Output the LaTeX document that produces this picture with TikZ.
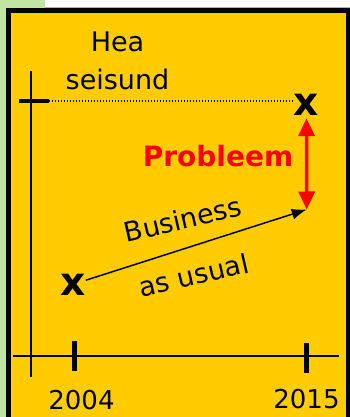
\documentclass[tikz,border=0pt]{standalone}
\usepackage{fontspec}
\setmainfont{DejaVu Sans}
\usetikzlibrary{arrows.meta}
\definecolor{bg}{HTML}{FFCC00}
\definecolor{lg}{HTML}{C2E4A2}
\tikzset{mk/.style={inner sep=0,anchor=base,font=\fontsize{39}{39}\selectfont\bfseries}}
\tikzset{tx/.style={inner sep=0,anchor=base,font=\fontsize{27}{38}\selectfont}}
\tikzset{tk/.style={line width=5pt}}
\tikzset{ax/.style={line width=1.5pt}}

\begin{document}
\begin{tikzpicture}[x=1pt,y=-1pt]
                \useasboundingbox (0,0) rectangle (350,417);
                % frame
                \fill[lg] (0,0) rectangle (45,8);
                \fill[lg] (0,0) rectangle (6,417);
                \draw[gray!60,line width=0.8pt] (45,7) -- (350,7);
                \draw[line width=5pt,fill=bg] (8.5,10.5) rectangle (348.5,425);
                % axes
                \coordinate (v0) at (31,71);
                \coordinate (v1) at (31,377);
                \coordinate (h0) at (13,356);
                \coordinate (h1) at (339,356);
                \draw[ax] (v0) -- (v1);
                \draw[ax] (h0) -- (h1);
                % ticks
                \coordinate (ytl) at (19,101);
                \coordinate (ytr) at (49,101);
                \draw[line width=3.5pt] (ytl) -- (ytr);
                \coordinate (t4a) at (74,341);
                \coordinate (t4b) at (74,371);
                \coordinate (t5a) at (306.5,343);
                \coordinate (t5b) at (306.5,373);
                \draw[tk] (t4a) -- (t4b);
                \draw[tk] (t5a) -- (t5b);
                \node[tx,font=\fontsize{26}{26}\selectfont] (y04) at (81.5,409) {2004};
                \node[tx,font=\fontsize{26}{26}\selectfont] (y15) at (306.5,408) {2015};
                % marks
                \node[mk] (hx) at (306.5,115) {x};
                \node[mk] (lx) at (73,295) {x};
                \coordinate (bau) at (306.7,209.5);
                \node[tx,anchor=center,align=center] (hs) at (117.5,61) {Hea\\seisund};
                \node[tx,font=\fontsize{28}{28}\selectfont\bfseries,text=red] (pr) at (218,166.5) {Probleem};
                \node[tx,rotate=13] (bu) at (185,229) {Business};
                \node[tx,rotate=13] (au) at (196,285) {as usual};
                % lines
                \draw[line width=1.3pt,dash pattern=on 1.3pt off 1.7pt] (ytr) -- (hx.west |- ytr);
                \draw[red,line width=3.5pt,{Triangle[length=18pt,width=16pt]}-{Triangle[length=18pt,width=16pt]},shorten <=3pt] (hx.south) -- (bau);
                \draw[line width=1.5pt,-{Latex[length=15pt,width=11pt]}] (lx) -- (bau);
            \end{tikzpicture}
\end{document}
